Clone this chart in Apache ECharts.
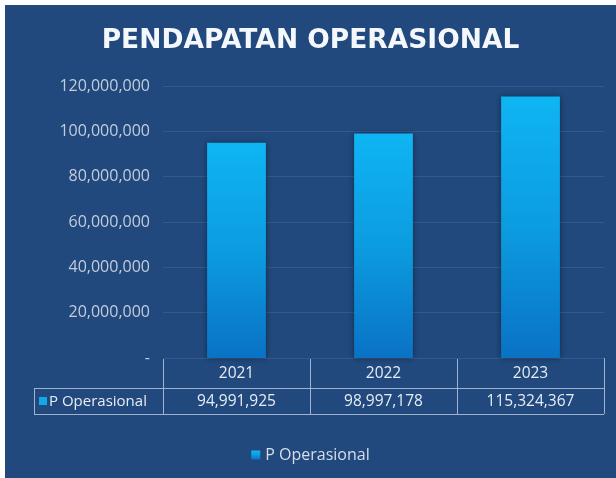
<!DOCTYPE html>
<html>
<head>
<meta charset="utf-8">
<script src="https://cdn.jsdelivr.net/npm/echarts@6/dist/echarts.min.js"></script>
<style>
html,body{margin:0;padding:0;background:#ffffff;}
#c{position:absolute;left:5px;top:5px;width:611px;height:473px;}
</style>
</head>
<body>
<div id="c"></div>
<script>
const titleText = 'PENDAPATAN OPERASIONAL';
const seriesName = 'P Operasional';
const years = ['2021', '2022', '2023'];
const values = [94991925, 98997178, 115324367];
const yMin = 0, yMax = 120000000, yStep = 20000000;

const W = 611, H = 473;
const gridLeft = 158, gridRight = 12, gridTop = 81, gridBottom = 120;
const plotBottom = H - gridBottom;
const colW = (W - gridLeft - gridRight) / years.length;
const row1 = 30, row2 = 26;
const tableLeft = 29;
const lineColor = '#9FB3CF';
const txtColor = '#E6ECF4';
const font = '"Open Sans", sans-serif';

const fmt = v => v.toLocaleString('en-US');

const graphics = [];
const right = W - gridRight;
const lineStyle = {stroke: lineColor, lineWidth: 1};
function hline(x1, x2, y) { graphics.push({type: 'line', shape: {x1, y1: y, x2, y2: y}, style: lineStyle, silent: true}); }
function vline(x, y1, y2) { graphics.push({type: 'line', shape: {x1: x, y1, x2: x, y2}, style: lineStyle, silent: true}); }
hline(gridLeft, right, plotBottom + 0.5);
hline(tableLeft, right, plotBottom + row1 + 0.5);
hline(tableLeft, right, plotBottom + row1 + row2 + 0.5);
vline(tableLeft + 0.5, plotBottom + row1, plotBottom + row1 + row2);
for (let i = 0; i <= years.length; i++) {
  vline(Math.round(gridLeft + i * colW) + 0.5, plotBottom, plotBottom + row1 + row2);
}
graphics.push({type: 'rect', shape: {x: tableLeft + 5, y: plotBottom + row1 + 9, width: 8, height: 8}, style: {fill: '#12A8EC'}, silent: true});
graphics.push({type: 'text', style: {text: seriesName, x: tableLeft + 15, y: plotBottom + row1 + row2 / 2 + 1, fill: txtColor, font: '15px ' + font, textVerticalAlign: 'middle'}, silent: true});
values.forEach((v, i) => {
  graphics.push({type: 'text', style: {text: fmt(v), x: gridLeft + (i + 0.5) * colW, y: plotBottom + row1 + row2 / 2 + 1, fill: txtColor, font: '15.5px ' + font, textAlign: 'center', textVerticalAlign: 'middle'}, silent: true});
});

const chart = echarts.init(document.getElementById('c'), null, {renderer: 'canvas'});
chart.setOption({
  backgroundColor: '#21497D',
  animation: false,
  title: {
    text: titleText, left: 'center', top: 18,
    textStyle: {color: '#F4F7FB', fontSize: 26.5, fontWeight: 'bold', fontFamily: '"DejaVu Sans", sans-serif'}
  },
  legend: {
    bottom: 10, left: 'center', icon: 'rect', itemWidth: 9, itemHeight: 9, itemGap: 6,
    textStyle: {color: '#D6DEEA', fontSize: 16, fontFamily: font},
    data: [seriesName]
  },
  grid: {left: gridLeft, right: gridRight, top: gridTop, bottom: gridBottom},
  xAxis: {
    type: 'category', data: years,
    axisLine: {show: false}, axisTick: {show: false},
    axisLabel: {color: txtColor, fontSize: 15.5, fontFamily: font, margin: 8}
  },
  yAxis: {
    type: 'value', min: yMin, max: yMax, interval: yStep,
    axisLine: {show: false}, axisTick: {show: false},
    splitLine: {lineStyle: {color: '#35598A', width: 1}},
    axisLabel: {color: '#C3CDDB', fontSize: 16, fontFamily: font, margin: 13,
      formatter: v => v === 0 ? '-' : fmt(v)}
  },
  series: [{
    name: seriesName, type: 'bar', data: values, barWidth: '40%',
    itemStyle: {
      color: new echarts.graphic.LinearGradient(0, 0, 0, 1, [
        {offset: 0, color: '#0FB5F3'}, {offset: 0.5, color: '#0C9CE0'}, {offset: 1, color: '#0A72C4'}
      ]),
      shadowColor: 'rgba(0,0,0,0.45)', shadowBlur: 6
    }
  }],
  graphic: graphics
});
</script>
</body>
</html>
